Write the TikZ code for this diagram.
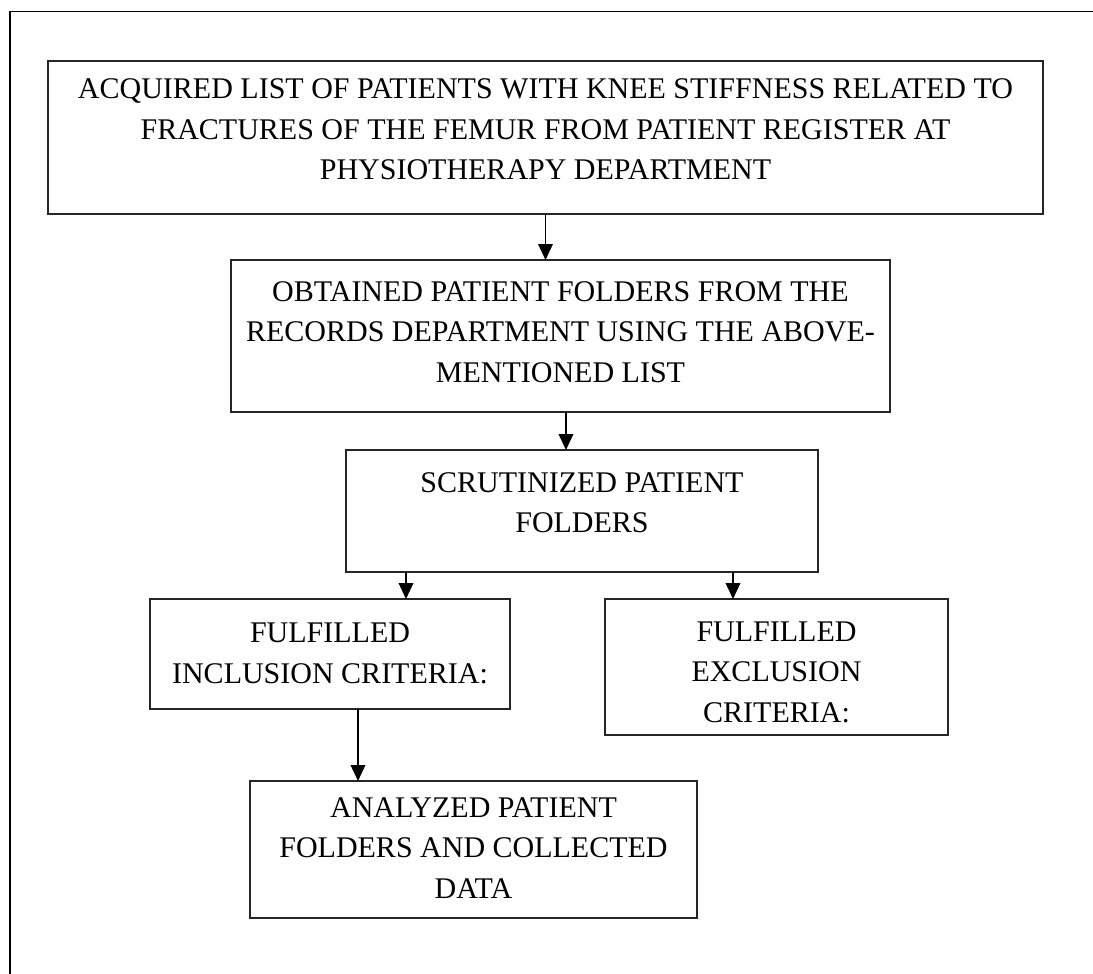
\documentclass[tikz,border=0pt]{standalone}
\usepackage{fontspec}
\setmainfont{Liberation Serif}
\usetikzlibrary{arrows.meta}

\tikzset{every picture/.style={line width=0.75pt}}
\tikzset{
  stepbox/.style={draw=black!85, line width=1.4pt, rectangle, inner sep=0pt, outer sep=0pt, anchor=north west},
  boxtext/.style={anchor=north, inner sep=0pt, align=center, font=\fontsize{22.5}{30.4}\selectfont},
  flow/.style={line width=1.1pt, -{Triangle[length=12pt,width=11pt]}}
}

\begin{document}
\begin{tikzpicture}[x=0.75pt,y=0.75pt,yscale=-1,xscale=1]
    \useasboundingbox (0,0) rectangle (1093,974);
    % Page frame
    \draw [line width=0.9pt] (10,974) -- (10,11.5) -- (1093,11.5) ;
    % Step 1
    \node [stepbox, minimum width=746.25pt, minimum height=114.75pt] (list) at (48,61) {};
    \node [boxtext, yshift=-13pt] (listtext) at (list.north) {ACQUIRED LIST OF PATIENTS WITH KNEE STIFFNESS RELATED TO\\FRACTURES OF THE FEMUR FROM PATIENT REGISTER AT\\PHYSIOTHERAPY DEPARTMENT};
    % Step 2
    \node [stepbox, minimum width=494.25pt, minimum height=114pt] (folders) at (231,260) {};
    \node [boxtext, yshift=-15.5pt] (folderstext) at (folders.north) {OBTAINED PATIENT FOLDERS FROM THE\\RECORDS DEPARTMENT USING THE ABOVE-\\MENTIONED LIST};
    % Step 3
    \node [stepbox, minimum width=354pt, minimum height=91.5pt] (scrutiny) at (346,450) {};
    \node [boxtext, yshift=-16.5pt] (scrutinytext) at (scrutiny.north) {SCRUTINIZED PATIENT\\FOLDERS};
    % Inclusion
    \node [stepbox, minimum width=270pt, minimum height=82.5pt] (inclusion) at (150,599) {};
    \node [boxtext, yshift=-17.5pt] (inclusiontext) at (inclusion.north) {FULFILLED\\INCLUSION CRITERIA:};
    % Exclusion
    \node [stepbox, minimum width=257.25pt, minimum height=102pt] (exclusion) at (605,599) {};
    \node [boxtext, yshift=-16.5pt] (exclusiontext) at (exclusion.north) {FULFILLED\\EXCLUSION\\CRITERIA:};
    % Analysis
    \node [stepbox, minimum width=335.25pt, minimum height=102.75pt] (analysis) at (250,781) {};
    \node [boxtext, yshift=-12pt] (analysistext) at (analysis.north) {ANALYZED PATIENT\\FOLDERS AND COLLECTED\\DATA};
    % Connections
    \draw [flow] (list.south) -- (list.south |- folders.north) ;
    \draw [flow] ([xshift=4.1pt]folders.south) -- ([xshift=4.1pt]folders.south |- scrutiny.north) ;
    \draw [flow] ([xshift=-132pt]scrutiny.south) -- ([xshift=-132pt]scrutiny.south |- inclusion.north) ;
    \draw [flow] ([xshift=113.25pt]scrutiny.south) -- ([xshift=113.25pt]scrutiny.south |- exclusion.north) ;
    \draw [flow] ([xshift=21pt]inclusion.south) -- ([xshift=21pt]inclusion.south |- analysis.north) ;
\end{tikzpicture}
\end{document}
